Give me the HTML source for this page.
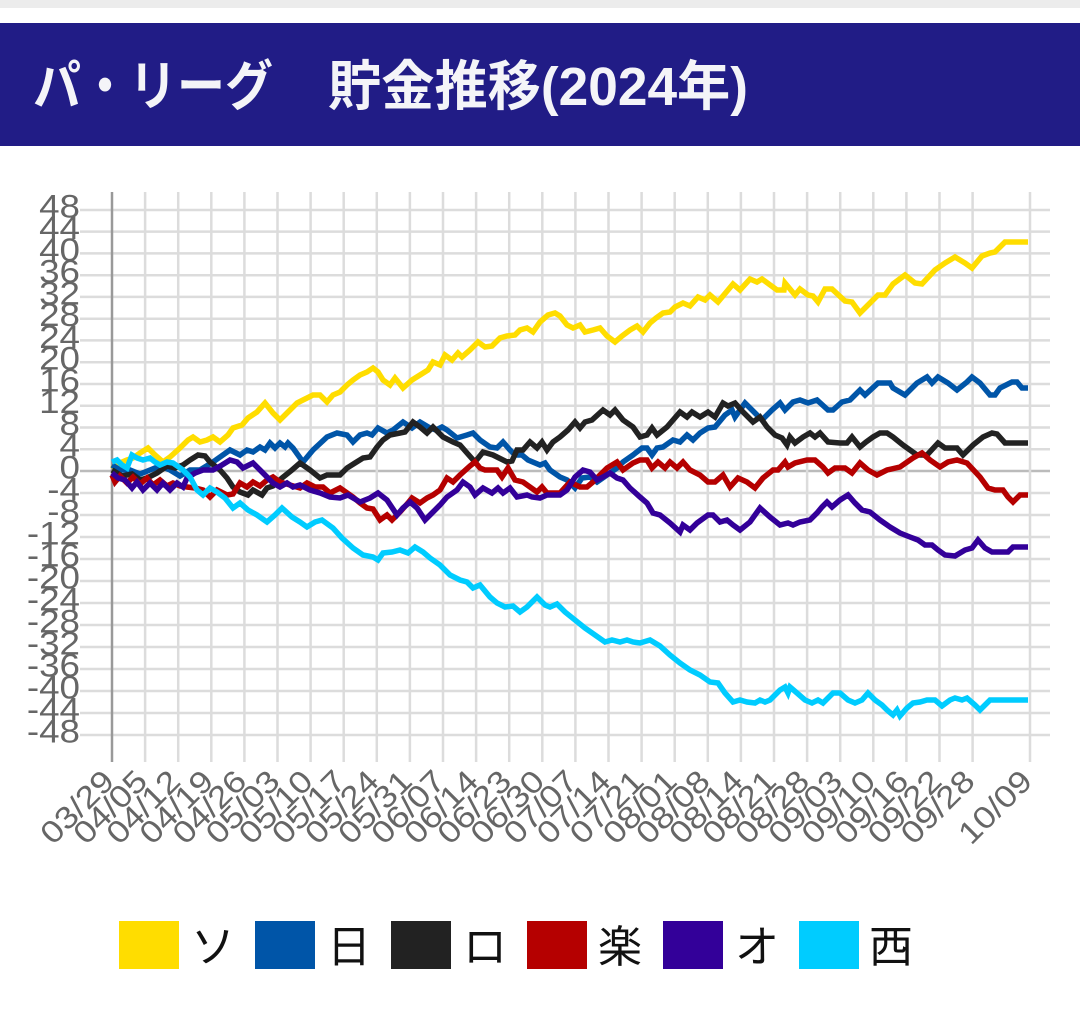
<!DOCTYPE html>
<html>
<head>
<meta charset="utf-8">
<style>
html,body{margin:0;padding:0;background:#fff;}
body{width:1080px;height:1022px;overflow:hidden;}
svg{display:block;}
.yl{font-family:"Liberation Sans","Noto Sans CJK JP",sans-serif;font-size:32px;fill:#666;}
.xl{font-family:"Liberation Sans","Noto Sans CJK JP",sans-serif;font-size:31px;fill:#666;}
.lg{font-family:"Liberation Sans","Noto Sans CJK JP",sans-serif;font-size:44px;fill:#111;}
.tt{font-family:"Liberation Sans","Noto Sans CJK JP",sans-serif;font-size:54px;font-weight:bold;fill:#f4f4f8;}
</style>
</head>
<body>
<svg width="1080" height="1022" viewBox="0 0 1080 1022" xmlns="http://www.w3.org/2000/svg">
<rect x="0" y="0" width="1080" height="8" fill="#ececec"/>
<rect x="0" y="23" width="1080" height="123" fill="#211c86"/>
<text class="tt" x="33" y="105" textLength="240" lengthAdjust="spacingAndGlyphs">パ・リーグ</text>
<text class="tt" x="328" y="105" textLength="420" lengthAdjust="spacingAndGlyphs">貯金推移(2024年)</text>

<!-- horizontal grid -->
<g stroke="#dcdcdc" stroke-width="2.5">
<line x1="80" x2="1050" y1="210" y2="210"/>
<line x1="80" x2="1050" y1="231.6" y2="231.6"/>
<line x1="80" x2="1050" y1="253.4" y2="253.4"/>
<line x1="80" x2="1050" y1="275.2" y2="275.2"/>
<line x1="80" x2="1050" y1="296.9" y2="296.9"/>
<line x1="80" x2="1050" y1="318.7" y2="318.7"/>
<line x1="80" x2="1050" y1="340.4" y2="340.4"/>
<line x1="80" x2="1050" y1="362.2" y2="362.2"/>
<line x1="80" x2="1050" y1="384" y2="384"/>
<line x1="80" x2="1050" y1="405.7" y2="405.7"/>
<line x1="80" x2="1050" y1="427.5" y2="427.5"/>
<line x1="80" x2="1050" y1="449.2" y2="449.2"/>
<line x1="80" x2="1050" y1="493" y2="493"/>
<line x1="80" x2="1050" y1="515" y2="515"/>
<line x1="80" x2="1050" y1="537" y2="537"/>
<line x1="80" x2="1050" y1="559" y2="559"/>
<line x1="80" x2="1050" y1="581" y2="581"/>
<line x1="80" x2="1050" y1="603" y2="603"/>
<line x1="80" x2="1050" y1="625" y2="625"/>
<line x1="80" x2="1050" y1="647" y2="647"/>
<line x1="80" x2="1050" y1="669" y2="669"/>
<line x1="80" x2="1050" y1="691" y2="691"/>
<line x1="80" x2="1050" y1="713" y2="713"/>
<line x1="80" x2="1050" y1="735" y2="735"/>
</g>
<line x1="80" x2="1050" y1="471" y2="471" stroke="#bbbbbb" stroke-width="2.5"/>

<!-- vertical grid -->
<g stroke="#dcdcdc" stroke-width="2.5">
<line y1="192" y2="762" x1="145.1" x2="145.1"/>
<line y1="192" y2="762" x1="178.2" x2="178.2"/>
<line y1="192" y2="762" x1="211.3" x2="211.3"/>
<line y1="192" y2="762" x1="244.4" x2="244.4"/>
<line y1="192" y2="762" x1="277.5" x2="277.5"/>
<line y1="192" y2="762" x1="310.6" x2="310.6"/>
<line y1="192" y2="762" x1="343.7" x2="343.7"/>
<line y1="192" y2="762" x1="376.8" x2="376.8"/>
<line y1="192" y2="762" x1="409.9" x2="409.9"/>
<line y1="192" y2="762" x1="443" x2="443"/>
<line y1="192" y2="762" x1="476.1" x2="476.1"/>
<line y1="192" y2="762" x1="509.2" x2="509.2"/>
<line y1="192" y2="762" x1="542.3" x2="542.3"/>
<line y1="192" y2="762" x1="575.4" x2="575.4"/>
<line y1="192" y2="762" x1="608.5" x2="608.5"/>
<line y1="192" y2="762" x1="641.6" x2="641.6"/>
<line y1="192" y2="762" x1="674.7" x2="674.7"/>
<line y1="192" y2="762" x1="707.8" x2="707.8"/>
<line y1="192" y2="762" x1="740.9" x2="740.9"/>
<line y1="192" y2="762" x1="774" x2="774"/>
<line y1="192" y2="762" x1="807.1" x2="807.1"/>
<line y1="192" y2="762" x1="840.2" x2="840.2"/>
<line y1="192" y2="762" x1="873.3" x2="873.3"/>
<line y1="192" y2="762" x1="906.4" x2="906.4"/>
<line y1="192" y2="762" x1="939.5" x2="939.5"/>
<line y1="192" y2="762" x1="972.6" x2="972.6"/>
<line y1="192" y2="762" x1="1030" x2="1030"/>
</g>
<line x1="112" x2="112" y1="192" y2="762" stroke="#999" stroke-width="2.5"/>

<!-- y labels -->
<g class="yl" text-anchor="end">
<text transform="translate(80,217.5) scale(1.15,1)">48</text>
<text transform="translate(80,239.1) scale(1.15,1)">44</text>
<text transform="translate(80,260.9) scale(1.15,1)">40</text>
<text transform="translate(80,282.7) scale(1.15,1)">36</text>
<text transform="translate(80,304.4) scale(1.15,1)">32</text>
<text transform="translate(80,326.2) scale(1.15,1)">28</text>
<text transform="translate(80,347.9) scale(1.15,1)">24</text>
<text transform="translate(80,369.7) scale(1.15,1)">20</text>
<text transform="translate(80,391.5) scale(1.15,1)">16</text>
<text transform="translate(80,413.2) scale(1.15,1)">12</text>
<text transform="translate(80,435) scale(1.15,1)">8</text>
<text transform="translate(80,456.7) scale(1.15,1)">4</text>
<text transform="translate(80,478.5) scale(1.15,1)">0</text>
<text transform="translate(80,500.5) scale(1.15,1)">-4</text>
<text transform="translate(80,522.5) scale(1.15,1)">-8</text>
<text transform="translate(80,544.5) scale(1.15,1)">-12</text>
<text transform="translate(80,566.5) scale(1.15,1)">-16</text>
<text transform="translate(80,588.5) scale(1.15,1)">-20</text>
<text transform="translate(80,610.5) scale(1.15,1)">-24</text>
<text transform="translate(80,632.5) scale(1.15,1)">-28</text>
<text transform="translate(80,654.5) scale(1.15,1)">-32</text>
<text transform="translate(80,676.5) scale(1.15,1)">-36</text>
<text transform="translate(80,698.5) scale(1.15,1)">-40</text>
<text transform="translate(80,720.5) scale(1.15,1)">-44</text>
<text transform="translate(80,742.5) scale(1.15,1)">-48</text>
</g>

<!-- x labels -->
<g class="xl" text-anchor="end">
<text transform="translate(116,783) rotate(-45) scale(1.15,1)">03/29</text>
<text transform="translate(149.1,783) rotate(-45) scale(1.15,1)">04/05</text>
<text transform="translate(182.2,783) rotate(-45) scale(1.15,1)">04/12</text>
<text transform="translate(215.3,783) rotate(-45) scale(1.15,1)">04/19</text>
<text transform="translate(248.4,783) rotate(-45) scale(1.15,1)">04/26</text>
<text transform="translate(281.5,783) rotate(-45) scale(1.15,1)">05/03</text>
<text transform="translate(314.6,783) rotate(-45) scale(1.15,1)">05/10</text>
<text transform="translate(347.7,783) rotate(-45) scale(1.15,1)">05/17</text>
<text transform="translate(380.8,783) rotate(-45) scale(1.15,1)">05/24</text>
<text transform="translate(413.9,783) rotate(-45) scale(1.15,1)">05/31</text>
<text transform="translate(447,783) rotate(-45) scale(1.15,1)">06/07</text>
<text transform="translate(480.1,783) rotate(-45) scale(1.15,1)">06/14</text>
<text transform="translate(513.2,783) rotate(-45) scale(1.15,1)">06/23</text>
<text transform="translate(546.3,783) rotate(-45) scale(1.15,1)">06/30</text>
<text transform="translate(579.4,783) rotate(-45) scale(1.15,1)">07/07</text>
<text transform="translate(612.5,783) rotate(-45) scale(1.15,1)">07/14</text>
<text transform="translate(645.6,783) rotate(-45) scale(1.15,1)">07/21</text>
<text transform="translate(678.7,783) rotate(-45) scale(1.15,1)">08/01</text>
<text transform="translate(711.8,783) rotate(-45) scale(1.15,1)">08/08</text>
<text transform="translate(744.9,783) rotate(-45) scale(1.15,1)">08/14</text>
<text transform="translate(778,783) rotate(-45) scale(1.15,1)">08/21</text>
<text transform="translate(811.1,783) rotate(-45) scale(1.15,1)">08/28</text>
<text transform="translate(844.2,783) rotate(-45) scale(1.15,1)">09/03</text>
<text transform="translate(877.3,783) rotate(-45) scale(1.15,1)">09/10</text>
<text transform="translate(910.4,783) rotate(-45) scale(1.15,1)">09/16</text>
<text transform="translate(943.5,783) rotate(-45) scale(1.15,1)">09/22</text>
<text transform="translate(976.6,783) rotate(-45) scale(1.15,1)">09/28</text>
<text transform="translate(1034,783) rotate(-45) scale(1.15,1)">10/09</text>
</g>

<!-- series -->
<g fill="none" stroke-width="5.5" stroke-linejoin="miter" stroke-miterlimit="3">
<polyline stroke="#ffdd00" points="112,465 115,468 120,463 127,460 133,458 140,453 148,448 155,455 163,462 170,457 180,448 188,440 193,437 200,442 207,440 213,437 220,442 228,435 233,428 242,425 248,418 257,412 265,403 273,413 280,420 288,412 297,403 303,400 313,395 320,395 327,402 333,395 340,392 347,385 353,380 360,375 367,372 373,368 378,372 383,380 390,385 395,378 403,388 412,380 420,375 428,370 433,362 440,365 445,355 452,360 458,353 462,357 470,350 478,342 485,347 492,346 500,338 507,336 515,335 520,330 527,328 533,332 540,322 548,315 555,313 560,316 567,325 573,328 580,325 585,332 593,330 600,328 607,336 615,342 622,336 630,330 637,326 643,332 650,323 656,318 663,313 670,312 675,307 683,303 690,306 698,297 705,300 710,295 718,302 733,284 740,290 750,279 757,282 762,279 777,290 784,290 785,283 795,295 800,289 808,295 813,296 818,302 825,289 832,289 845,301 852,302 860,313 878,295 885,295 893,284 905,275 915,283 922,284 935,270 945,263 955,257 965,263 972,268 982,256 990,253 995,252 1005,242 1028,242"/>
<polyline stroke="#0055a8" points="112,465 120,470 130,470 140,474 150,470 160,466 170,470 180,476 190,470 200,470 213,462 230,450 240,455 247,450 253,452 260,447 265,450 270,443 275,448 280,443 285,447 288,443 293,448 303,462 313,450 327,437 337,433 347,435 353,442 360,435 367,433 372,435 378,428 387,433 393,430 403,422 412,428 420,422 430,428 436,430 442,427 447,430 457,438 467,435 473,433 480,440 490,447 497,448 503,442 510,450 515,455 522,455 528,460 540,465 545,463 550,470 560,477 567,480 575,488 582,478 590,477 597,482 607,475 617,468 623,462 633,455 642,448 647,448 652,455 657,448 663,447 673,440 680,442 687,435 693,440 700,433 708,428 715,427 725,415 732,410 735,417 745,403 755,413 762,420 772,410 780,403 785,410 793,402 800,400 808,403 817,400 828,410 833,410 842,402 850,400 860,390 865,395 878,383 890,383 893,388 905,395 917,383 927,377 932,383 938,377 948,383 957,390 967,382 972,377 980,383 990,395 995,395 1000,388 1012,382 1017,382 1022,388 1028,388"/>
<polyline stroke="#222222" points="112,470 122,476 132,474 140,480 147,478 157,473 167,466 175,468 183,465 190,460 198,455 205,456 210,462 220,470 227,478 233,487 240,492 248,495 253,490 262,495 267,488 273,486 282,478 292,470 300,463 310,470 320,478 327,475 340,475 347,468 355,463 363,458 370,457 377,447 383,440 390,435 400,433 405,432 413,422 420,427 427,433 433,427 443,437 453,442 460,445 467,453 475,462 483,452 493,455 507,462 512,461 517,450 523,450 530,442 537,448 542,442 547,450 553,442 560,437 568,430 575,422 580,428 585,422 592,420 603,410 610,415 615,410 623,420 633,427 640,437 647,435 652,428 657,435 667,427 680,412 687,417 692,412 700,417 708,412 715,417 723,403 728,406 735,403 743,412 753,422 760,417 767,427 775,435 782,438 787,445 790,437 795,443 803,437 810,433 815,437 820,433 828,442 840,443 847,443 852,437 860,447 866,442 873,437 880,433 887,433 893,437 903,445 917,455 927,455 938,443 945,448 957,448 963,455 973,445 983,437 992,433 997,434 1005,443 1028,443"/>
<polyline stroke="#b50000" points="112,475 115,482 120,476 127,483 133,477 140,484 147,478 153,485 160,480 167,486 173,483 180,486 187,487 195,488 203,490 210,497 217,490 227,495 233,494 240,483 247,487 253,482 260,486 267,480 273,477 280,482 290,485 300,488 307,483 315,487 323,487 330,493 340,488 353,497 360,503 367,508 373,509 380,520 387,515 392,520 400,512 408,503 412,498 420,503 427,498 433,495 440,490 447,478 453,482 460,475 470,466 475,462 480,468 485,470 497,470 502,477 508,468 515,480 523,482 537,492 542,487 547,493 560,493 570,482 580,487 587,487 593,482 607,468 617,462 623,470 633,463 640,460 647,460 652,468 658,462 665,468 670,462 677,468 683,462 690,470 700,475 708,482 715,482 723,475 730,487 738,478 747,482 755,488 763,478 773,470 778,470 785,462 788,467 795,463 807,460 815,460 823,467 828,473 835,468 845,468 852,473 860,463 868,470 877,475 887,470 900,467 913,458 922,453 930,460 940,467 948,462 957,460 967,463 980,477 988,488 995,490 1003,490 1008,497 1013,502 1020,495 1028,495"/>
<polyline stroke="#330099" points="112,473 118,478 125,480 132,488 137,482 143,490 150,483 157,490 163,483 170,490 177,483 183,487 187,478 195,473 203,470 213,470 222,465 230,460 237,462 243,468 253,463 262,472 268,478 273,483 280,487 287,483 293,487 300,485 310,490 320,493 330,497 340,498 348,495 360,502 370,498 378,493 387,500 397,515 403,508 410,502 417,508 425,520 433,512 440,505 447,497 457,490 463,482 470,487 475,495 483,488 492,493 498,488 503,493 510,488 517,497 527,495 532,497 540,498 547,495 560,495 567,490 575,477 583,470 590,472 597,480 603,477 610,473 617,478 623,480 630,488 640,497 647,503 653,513 660,515 670,523 680,532 683,525 690,530 697,523 708,515 713,515 720,522 727,520 733,525 740,530 750,522 760,508 770,517 780,525 788,523 793,525 800,522 810,520 817,513 822,507 827,502 832,507 840,500 848,495 855,503 862,510 870,512 880,520 890,527 900,533 910,537 918,540 925,545 932,545 938,550 945,555 955,556 965,550 972,548 978,540 985,548 992,552 1008,552 1013,547 1028,547"/>
<polyline stroke="#00ccff" points="112,462 117,460 122,465 127,468 132,455 137,458 143,460 150,458 155,462 160,465 167,462 173,463 183,470 190,477 197,490 203,495 210,488 217,492 225,498 233,508 240,503 248,510 257,515 267,522 275,515 282,508 292,517 300,522 307,527 315,522 322,520 333,528 342,538 353,548 363,555 373,557 378,560 383,553 392,552 400,550 408,553 415,547 423,552 430,558 440,565 450,575 460,580 467,582 473,588 480,585 490,597 497,603 505,607 513,606 520,612 527,607 537,597 545,605 550,607 557,604 565,612 575,620 585,628 595,635 605,642 612,640 620,642 627,640 633,642 640,643 650,640 660,646 670,655 680,663 690,670 700,675 710,682 718,683 725,693 733,702 740,700 747,702 755,703 760,700 765,702 770,700 775,695 780,690 785,687 788,693 790,687 797,693 805,700 812,703 818,700 823,703 828,698 833,693 840,693 848,700 855,703 862,700 868,693 875,700 882,705 887,710 893,715 897,710 900,716 907,708 913,703 920,702 927,700 935,700 942,706 950,700 955,698 962,700 967,698 975,705 980,710 985,705 990,700 1028,700"/>
</g>

<!-- legend -->
<rect x="119" y="921" width="60" height="48" fill="#ffdd00"/>
<text class="lg" x="191" y="962">ソ</text>
<rect x="255" y="921" width="60" height="48" fill="#0055a8"/>
<text class="lg" x="327" y="962">日</text>
<rect x="391" y="921" width="60" height="48" fill="#222222"/>
<text class="lg" x="463" y="962">ロ</text>
<rect x="527" y="921" width="60" height="48" fill="#b50000"/>
<text class="lg" x="598" y="962">楽</text>
<rect x="663" y="921" width="60" height="48" fill="#330099"/>
<text class="lg" x="735" y="962">オ</text>
<rect x="799" y="921" width="60" height="48" fill="#00ccff"/>
<text class="lg" x="869" y="962">西</text>
</svg>
</body>
</html>
